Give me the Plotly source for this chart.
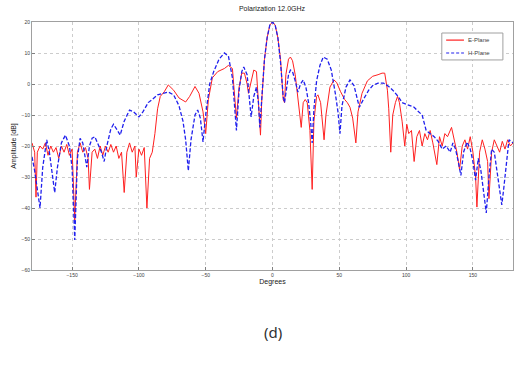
import plotly.graph_objects as go

e_deg = [-180,-178,-177,-176,-174,-172,-170,-168,-166,-164,-162,-160,-158,-156,-154,-152,-150,-148,-146,-144,-142,-140,-138,-137,-135,-133,-131,-129,-127,-125,-123,-121,-119,-117,-115,-113,-111,-109,-107,-105,-103,-102,-100,-98,-96,-94,-92,-90,-88,-86,-84,-81,-78,-74,-70,-65,-62,-58,-55,-52,-50,-48,-45,-41,-36,-33,-30,-27,-25,-23,-21,-19,-18,-16,-14,-12,-10,-9,-8,-6,-4,-2,0,2,4,6,8,9,10,12,13.4,15,17,19,21.5,23,24.5,26,28,29.7,31,33,34,36,38.6,40,43,46,48,51,54,56,58,60,62.4,64,67,71,75,79,82,84,86,87,88.5,90,92,93.6,95,97,99,100.5,102,104,106,108,110,112,114,116,118,120,123,125,127,129,131,134,136,138,140,142,144,146,148,150,152,153,155,157,159,161,162,164,166,168,170,172,174,176,178,180]
e_db = [-19,-22,-36.5,-22,-20,-21,-19,-23,-20,-22,-20.5,-24,-20,-22,-19.5,-23,-21,-44,-22,-19,-22,-20.5,-24,-34,-22,-21,-24,-20,-23,-20,-22,-19.5,-22,-20,-24,-22,-35,-22,-19,-22,-20,-30,-21,-23,-20.5,-40,-24,-22,-16,-8,-4,-2.5,-0.3,-2,-4.5,-5.8,-4,-0.8,-3,-9,-16,-5,2,4,5,6,5,-11,-1,3.5,3.5,0,-3,1,4.5,4,-8,-16.5,-5,8,15,19,20,19,15,8,-5,-6,3,8,8.7,7.5,3,-4,-14,-6,-5,-6,-15,-34,-12,-4,-3.5,-6,-18,-10,-1,1.3,0.5,-2.5,-5,-6,-7.5,-11,-19,-9,-3,1,2.5,3,3.5,3.5,-2,-8,-22,-10,-6,-4,-6,-12,-20,-13,-16,-15,-25,-17,-15,-20,-16,-18,-15,-19,-26,-17,-20,-16,-17,-14,-18,-22,-27.6,-20,-18,-21,-17,-22,-30,-39.7,-22,-18,-21,-25,-37,-22,-18,-20,-22,-18.5,-21,-18,-20,-19]

h_deg = [-180,-178,-176,-174,-172,-170,-169,-167,-165,-163,-161,-158,-155,-152,-150,-148,-146,-144,-142,-141,-139,-137,-135,-133,-131,-128,-126,-124,-121,-119,-116,-114,-111,-107,-104,-100,-97,-93,-90,-86,-82,-78,-74,-70,-67,-65,-63,-61,-58,-56,-54,-52,-50,-47,-44,-40,-36,-33,-30,-27,-25,-23,-21.5,-19,-16,-14,-12,-10.5,-9.5,-8,-6,-4,-2,0,2,4,6,8,9,10,12,13.4,15,17,19,21,23,25,27,28.5,29.7,31,33,35.5,38,41,44,47,49,50.5,52,55,58,61,63,65,68,72,75,79,83,87,90,94,97,102.5,106,108,112,115,118,121,124,127,130,133,135,137,139,141,143,145.6,148,150,152,154,156,158,160,162,164,166,168,170,171.6,173,175,177,180]
h_db = [-23.5,-28,-34,-40,-27,-20,-18,-22,-28,-35,-27,-19,-16.5,-20,-27,-50.3,-24,-17.5,-19,-22,-26.8,-20,-17.5,-17,-19,-22,-25,-20,-14.5,-13,-15,-16.5,-12,-8.4,-9,-10.6,-9,-6,-5,-3.5,-3,-2.6,-3.5,-7,-12,-18,-28,-18,-10,-8.4,-11,-18.7,-10,0,4,8,10,9,2,-15,-2,4,5.5,3,-10.6,-4,-1,-6,-14,-4,8,15,19,20,19,15,7,-4,-6,-3,3,4.5,4,1,-2.6,0,1.3,-1,-6,-12,-19,-8,1,6,8.7,8,4.5,-3,-9,-16,-7,-1,1.3,-0.5,-4,-7.5,-5,-2,-0.5,0.3,0.3,-0.8,-2,-4,-6,-6.8,-7.5,-8.4,-10,-15,-16,-17,-18.5,-21,-20,-22,-19,-21,-25,-29.5,-22,-18.7,-21,-25,-31,-24,-28,-34,-41.6,-30,-21,-22,-28,-34,-39,-34,-25,-18,-19]

x_ticks = [-150, -100, -50, 0, 50, 100, 150]
y_ticks = [-60, -50, -40, -30, -20, -10, 0, 10, 20]
series_names = ["E-Plane", "H-Plane"]
series_colors = ["#ff2020", "#2020ee"]

fig = go.Figure()
fig.add_trace(go.Scatter(x=e_deg, y=e_db, mode="lines", name=series_names[0],
                         line=dict(color=series_colors[0], width=1)))
fig.add_trace(go.Scatter(x=h_deg, y=h_db, mode="lines", name=series_names[1],
                         line=dict(color=series_colors[1], width=1.3, dash="4px,2px")))

axis_common = dict(showline=True, linecolor="#a0a0a0", linewidth=1, mirror=True,
                   showgrid=True, gridcolor="#cccccc", griddash="dot", gridwidth=1,
                   ticks="inside", ticklen=3, tickcolor="#808080",
                   tickfont=dict(size=5, color="#404040", family="Arial, Liberation Sans"),
                   zeroline=False)

# compact MATLAB-style legend drawn in paper coordinates
lx0, lx1, ly0, ly1 = 0.852, 0.979, 0.847, 0.9556
row_y = [0.927, 0.875]
dashes = ["solid", "3px,2px"]
shapes = [dict(type="rect", xref="paper", yref="paper", x0=lx0, x1=lx1, y0=ly0, y1=ly1,
               line=dict(color="#a0a0a0", width=1), fillcolor="white", layer="above")]
annotations = []
for name, col, yy, dsh in zip(series_names, series_colors, row_y, dashes):
    shapes.append(dict(type="line", xref="paper", yref="paper", x0=0.861, x1=0.898, y0=yy, y1=yy,
                       line=dict(color=col, width=1.2, dash=dsh), layer="above"))
    annotations.append(dict(text=name, xref="paper", yref="paper", x=0.902, y=yy,
                            xanchor="left", yanchor="middle", showarrow=False,
                            font=dict(size=6, color="#404040", family="Arial, Liberation Sans")))
annotations.append(dict(text="(d)", x=0.5, xref="paper", y=-0.25, yref="paper",
                        showarrow=False, xanchor="center", yanchor="middle",
                        font=dict(size=15, color="#303030", family="Noto Sans")))

fig.update_layout(
    width=523, height=366,
    margin=dict(l=32, r=10, t=22, b=96),
    paper_bgcolor="white", plot_bgcolor="white",
    title=dict(text="Polarization 12.0GHz", x=0.52, xanchor="center", y=0.978, yanchor="middle",
               font=dict(size=7, color="#202020", family="Arial, Liberation Sans")),
    showlegend=False,
    xaxis=dict(range=[-180, 180], tickvals=x_ticks, **axis_common,
               title=dict(text="Degrees", standoff=2,
                          font=dict(size=7, color="#202020", family="Arial, Liberation Sans"))),
    yaxis=dict(range=[-60, 20], tickvals=y_ticks, **axis_common,
               title=dict(text="Amplitude [dB]", standoff=4,
                          font=dict(size=7, color="#202020", family="Arial, Liberation Sans"))),
    shapes=shapes,
    annotations=annotations,
)

fig.write_html("out.html")
